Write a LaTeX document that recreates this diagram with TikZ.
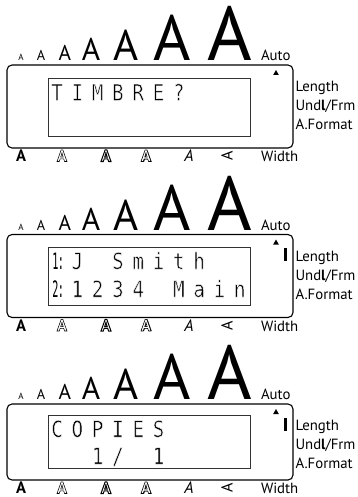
\documentclass[tikz,border=0pt]{standalone}
\usepackage{fontspec}
\setmainfont{PT Sans}
\newfontfamily\lcdfam[FakeStretch=0.85]{DejaVu Sans Mono}
\newfontfamily\lcdnfam[FakeStretch=0.45]{DejaVu Sans Mono}
\newcommand\lcdfont{\lcdfam\fontsize{22.6}{22.6}\selectfont}
\newcommand\lcdnfont{\lcdnfam\fontsize{22.6}{22.6}\selectfont}
% thin LCD strokes: fill black, stroke white
\newcommand\thinlcd[1]{\special{pdf:literal direct 2 Tr 1 G 0.45 w}#1\special{pdf:literal direct 0 Tr 0 G}}
\newcommand\outl[2]{\special{pdf:literal direct 1 Tr #1 w}#2\special{pdf:literal direct 0 Tr}}
\newcommand\whitefill[1]{\special{pdf:literal direct 2 Tr 0.6 w 1 g 0 G}#1\special{pdf:literal direct 0 Tr 0 g}}
\tikzset{
  every node/.style={inner sep=0pt,outer sep=0pt},
  lab/.style={anchor=base west,font=\fontsize{14.8}{14.8}\selectfont},
  lcdch/.style={anchor=base,font=\lcdfont},
  lcdnar/.style={anchor=base,font=\lcdnfont},
  botA/.style={anchor=base,font=\fontsize{16.5}{16.5}\selectfont\bfseries},
  boxframe/.style={line width=1.1pt,rounded corners=5pt},
  lcdframe/.style={line width=0.9pt,draw=black!80},
}
% #1 prefix, #2 box height, #3 inner top, #4 inner bottom, #5 show bar (1/0)
\newcommand\panelframe[5]{%
  \foreach \s/\x/\n in {9/21/1,14.3/41/2,21.4/65/3,31.4/91/4,42.9/126/5,63.9/172/6,76.3/230/7}
    \node[anchor=base,font=\fontsize{\s}{\s}\selectfont] (#1a\n) at (\x,-4.5) {A};
  \node[lab] (#1auto) at (261,-4.5) {Auto};
  \draw[boxframe] (7,0) rectangle (293,#2);
  \draw[lcdframe] (48,#3) rectangle (250,#4);
  \fill (273.2,10) -- (278.8,10) -- (276,5) -- cycle;
  \ifnum#5=1 \fill (283.5,13.5) rectangle (286.5,26.5);\fi
  \node[lab] (#1len) at (295.5,26.5) {Length};
  \node[lab] (#1und) at (295.5,45.5) {Und{\bfseries l}/Frm};
  \node[lab] (#1afm) at (295.5,64.5) {A.Format};
  \node[botA] (#1b1) at (21,#2+13.5) {A};
  \node[botA] (#1b2) at (62,#2+13.5) {\outl{0.55}{A}};
  \node[botA] (#1b3) at (106,#2+13.5) {\outl{1.0}{A}};
  \node[botA] (#1b4s) at (146.9,#2+13.5+0.9) {A};
  \node[botA] (#1b4) at (146,#2+13.5) {\whitefill{A}};
  \node[botA,font=\fontsize{16.5}{16.5}\selectfont\itshape] (#1b5) at (189,#2+13.5) {A};
  \node[font=\fontsize{16}{16}\selectfont,rotate=90] (#1b6) at (227,#2+13.5-5.6) {A};
  \node[lab] (#1wid) at (261,#2+13.5) {Width};
}
\begin{document}
\begin{tikzpicture}[x=1pt,y=-1pt]
\useasboundingbox (0,0) rectangle (358,497);
% panel 1
\begin{scope}[shift={(0,65)}]
  \panelframe{p}{83}{13}{71}{0}
  \foreach \c [count=\i from 0] in {T,I,M,B,R,E,?}
    \node[lcdch] (pc\i) at (57+20.3*\i,35.5) {\thinlcd{\c}};
\end{scope}
% panel 2
\begin{scope}[shift={(0,234.5)}]
  \panelframe{q}{83}{12.5}{70.5}{1}
  \node[lcdnar] (qn1) at (55.5,34.5) {1};
  \node[lcdnar] (qk1) at (61,34.5) {:};
  \foreach \c/\k in {J/1,S/3,m/4,i/5,t/6,h/7}
    \node[lcdch] (qa\k) at (57+20.3*\k,34.5) {\thinlcd{\c}};
  \node[lcdnar] (qn2) at (55.5,62.5) {2};
  \node[lcdnar] (qk2) at (61,62.5) {:};
  \foreach \c/\k in {1/1,2/2,3/3,4/4,M/6,a/7,i/8,n/9}
    \node[lcdch] (qb\k) at (57+20.3*\k,62.5) {\thinlcd{\c}};
\end{scope}
% panel 3
\begin{scope}[shift={(0,404)}]
  \panelframe{r}{76}{11.5}{64.5}{1}
  \foreach \c [count=\i from 0] in {C,O,P,I,E,S}
    \node[lcdch] (rc\i) at (57+20.3*\i,33) {\thinlcd{\c}};
  \node[lcdch] (rd1) at (57+20.3*2,60) {\thinlcd{1}};
  \node[lcdch] (rd2) at (57+20.3*3,60) {\thinlcd{/}};
  \node[lcdch] (rd3) at (57+20.3*5,60) {\thinlcd{1}};
\end{scope}
\end{tikzpicture}
\end{document}
